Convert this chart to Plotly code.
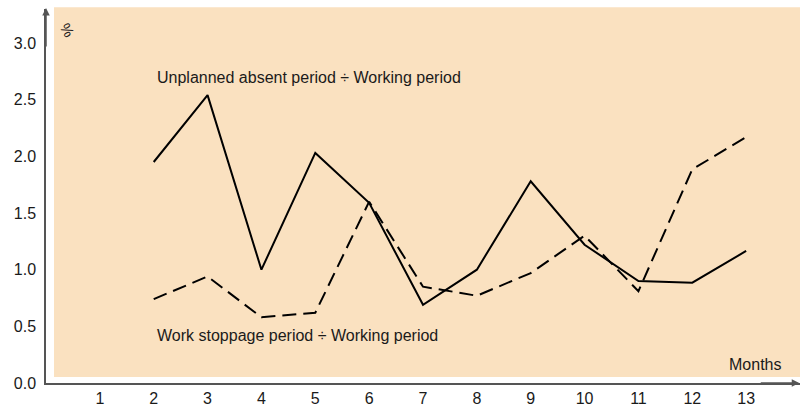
import plotly.graph_objects as go

months = list(range(2, 14))
unplanned_absent = [1.95, 2.54, 1.00, 2.03, 1.59, 0.69, 1.00, 1.78, 1.22, 0.90, 0.885, 1.165]
work_stoppage = [0.74, 0.94, 0.58, 0.62, 1.60, 0.85, 0.77, 0.97, 1.30, 0.81, 1.885, 2.17]
x_ticks = list(range(1, 14))
y_ticks = [0.0, 0.5, 1.0, 1.5, 2.0, 2.5, 3.0]

FONT = "Liberation Sans, Arial, Helvetica, sans-serif"
AXIS = "#555555"

fig = go.Figure()
fig.add_trace(go.Scatter(x=months, y=unplanned_absent, mode="lines",
                         line=dict(color="black", width=2), showlegend=False, hoverinfo="skip"))
fig.add_trace(go.Scatter(x=months, y=work_stoppage, mode="lines",
                         line=dict(color="black", width=2, dash="14px,7px"), showlegend=False, hoverinfo="skip"))

# beige panel behind the lines
fig.add_shape(type="rect", xref="paper", yref="paper", x0=0.0106, x1=1.0, y0=0.016, y1=1.005,
              fillcolor="#FAE1C0", line_width=0, layer="below")

fig.add_annotation(x=0.1446, y=2.70, xref="paper", yref="y", text="Unplanned absent period ÷ Working period",
                   showarrow=False, xanchor="left", yanchor="middle")
fig.add_annotation(x=0.1446, y=0.415, xref="paper", yref="y", text="Work stoppage period ÷ Working period",
                   showarrow=False, xanchor="left", yanchor="middle")
fig.add_annotation(x=0.977, y=0.16, xref="paper", yref="y", text="Months",
                   showarrow=False, xanchor="right", yanchor="middle")
fig.add_annotation(x=0.028, y=0.945, xref="paper", yref="paper", text="%", textangle=60,
                   showarrow=False, xanchor="center", yanchor="middle", font=dict(size=15))

# axis arrows
fig.add_annotation(x=0, y=1.003, xref="paper", yref="paper", ax=0, ay=40, axref="pixel", ayref="pixel",
                   showarrow=True, arrowhead=2, arrowsize=1, arrowwidth=1.5, arrowcolor=AXIS, text="")
fig.add_annotation(x=0.999, y=0, xref="paper", yref="paper", ax=-40, ay=0, axref="pixel", ayref="pixel",
                   showarrow=True, arrowhead=2, arrowsize=1, arrowwidth=1.5, arrowcolor=AXIS, text="")

fig.update_layout(
    width=802, height=409,
    margin=dict(l=46, r=2, t=9, b=26),
    paper_bgcolor="white", plot_bgcolor="white",
    font=dict(family=FONT, size=16, color="#1a1a1a"),
    xaxis=dict(range=[0, 14], tickvals=x_ticks, showgrid=False, zeroline=False,
               showline=True, linecolor=AXIS, linewidth=1.5, ticks="", ticklen=0),
    yaxis=dict(range=[0, 3.3], tickvals=y_ticks, tickformat=".1f", showgrid=False, zeroline=False,
               showline=True, linecolor=AXIS, linewidth=1.5, ticks="outside", ticklen=5,
               tickcolor="rgba(0,0,0,0)"),
)

fig.write_html("out.html", config={"displayModeBar": False},
               post_script="document.body.style.margin='0';")
